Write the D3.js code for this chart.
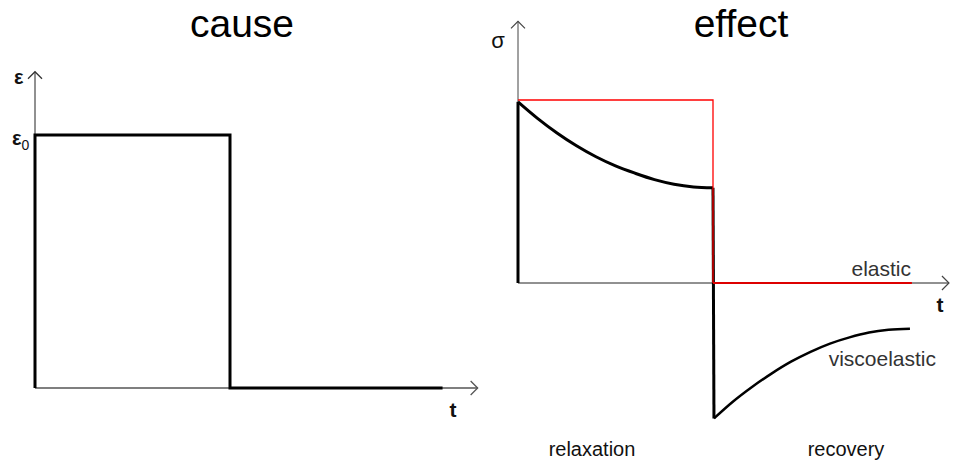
<!DOCTYPE html>
<html>
<head>
<meta charset="utf-8">
<script src="https://cdn.jsdelivr.net/npm/d3@7"></script>
<style>
  html, body { margin: 0; padding: 0; background: #fff; }
  svg { display: block; }
  text { font-family: "Liberation Sans", Arial, sans-serif; }
</style>
</head>
<body>
<svg id="chart" width="955" height="464"></svg>
<script>
// Cause: applied strain step (strain held at ε0 for one time unit, then released)
const causeTime   = [0, 0, 1, 1, 2.09];
const causeStrain = [0, 1, 1, 0, 0];

// Effect: elastic response (stress follows strain instantly)
const elasticTime   = [0, 1, 1, 2.02];
const elasticStress = [1, 1, 0, 0];

// Effect: viscoelastic relaxation while strain is held
const relaxTime   = [0, 0.1, 0.2, 0.3, 0.4, 0.5, 0.6, 0.7, 0.8, 0.9, 1.0];
const relaxStress = [0.99, 0.90, 0.82, 0.75, 0.69, 0.64, 0.60, 0.565, 0.54, 0.525, 0.52];

// Effect: viscoelastic recovery after strain release
const recoveryTime   = [1.005, 1.1, 1.2, 1.3, 1.4, 1.5, 1.6, 1.7, 1.8, 1.9, 2.01];
const recoveryStress = [-0.74, -0.65, -0.568, -0.495, -0.43, -0.376, -0.331, -0.297, -0.271, -0.256, -0.25];

// Axis extents and labels
const causeAxisMax  = { t: 2.27, strain: 1.25 };
const effectAxisMax = { t: 2.21, stress: 1.43 };
const titles = ["cause", "effect"];
const phaseLabels = ["relaxation", "recovery"];
const curveLabels = ["elastic", "viscoelastic"];

const svg = d3.select("#chart");

// Scales
const xL = d3.scaleLinear().domain([0, 1]).range([35, 230]);
const yL = d3.scaleLinear().domain([0, 1]).range([388, 135]);
const xR = d3.scaleLinear().domain([0, 1]).range([518, 713]);
const yR = d3.scaleLinear().domain([0, 1]).range([283, 100]);

const zip = (a, b) => a.map((v, i) => [v, b[i]]);

function arrowHead(g, x, y, dir, color, width) {
  const s = 7;
  const pts = dir === "up"
    ? [[x - s, y + s], [x, y], [x + s, y + s]]
    : [[x - s, y - s], [x, y], [x - s, y + s]];
  g.append("path")
    .attr("d", d3.line()(pts))
    .attr("fill", "none")
    .attr("stroke", color)
    .attr("stroke-width", width);
}

// ----- Titles -----
svg.append("text").attr("x", 242).attr("y", 37).attr("text-anchor", "middle")
  .attr("font-size", 39).attr("fill", "#000").text(titles[0]);
svg.append("text").attr("x", 741).attr("y", 37).attr("text-anchor", "middle")
  .attr("font-size", 39).attr("fill", "#000").text(titles[1]);

// ----- Cause panel -----
const gL = svg.append("g");
// axes
gL.append("line")
  .attr("x1", xL(0)).attr("y1", yL(0))
  .attr("x2", xL(causeAxisMax.t)).attr("y2", yL(0))
  .attr("stroke", "#555").attr("stroke-width", 1.5);
gL.append("line")
  .attr("x1", xL(0)).attr("y1", yL(0))
  .attr("x2", xL(0)).attr("y2", yL(causeAxisMax.strain))
  .attr("stroke", "#222").attr("stroke-width", 1);
arrowHead(gL, xL(causeAxisMax.t), yL(0), "right", "#555", 1.3);
arrowHead(gL, xL(0), yL(causeAxisMax.strain), "up", "#333", 1.3);

// strain history
gL.append("path")
  .attr("d", d3.line().x(d => xL(d[0])).y(d => yL(d[1]))(zip(causeTime, causeStrain)))
  .attr("fill", "none").attr("stroke", "#000").attr("stroke-width", 3)
  .attr("stroke-linejoin", "miter");

// labels
gL.append("text").attr("x", 14).attr("y", yL(causeAxisMax.strain) + 12)
  .attr("font-size", 20).attr("font-weight", "bold").attr("fill", "#111").text("ε");
const eps0 = gL.append("text").attr("x", 12).attr("y", yL(1) + 10)
  .attr("font-size", 20).attr("font-weight", "bold").attr("fill", "#111");
eps0.append("tspan").text("ε");
eps0.append("tspan").attr("dy", 5).attr("font-size", 14).attr("font-weight", "normal").text("0");
gL.append("text").attr("x", 453).attr("y", 417).attr("text-anchor", "middle")
  .attr("font-size", 21).attr("font-weight", "bold").attr("fill", "#111").text("t");

// ----- Effect panel -----
const gR = svg.append("g");
// axes
gR.append("line")
  .attr("x1", xR(0)).attr("y1", yR(0))
  .attr("x2", xR(effectAxisMax.t)).attr("y2", yR(0))
  .attr("stroke", "#222").attr("stroke-width", 1);
gR.append("line")
  .attr("x1", xR(0)).attr("y1", yR(0))
  .attr("x2", xR(0)).attr("y2", yR(effectAxisMax.stress))
  .attr("stroke", "#444").attr("stroke-width", 1);
arrowHead(gR, xR(effectAxisMax.t), yR(0), "right", "#444", 1.2);
arrowHead(gR, xR(0), yR(effectAxisMax.stress), "up", "#444", 1.2);

// viscoelastic: loading jump, relaxation, unloading jump, recovery
const lineR = d3.line().x(d => xR(d[0])).y(d => yR(d[1]));
const curveR = d3.line().x(d => xR(d[0])).y(d => yR(d[1])).curve(d3.curveMonotoneX);

gR.append("path")
  .attr("d", lineR([[0, 0], [relaxTime[0], relaxStress[0]]]))
  .attr("stroke", "#000").attr("stroke-width", 3).attr("fill", "none");
gR.append("path")
  .attr("d", curveR(zip(relaxTime, relaxStress)))
  .attr("stroke", "#000").attr("stroke-width", 3).attr("fill", "none");
gR.append("path")
  .attr("d", lineR([[relaxTime[relaxTime.length - 1], relaxStress[relaxStress.length - 1]],
                    [recoveryTime[0], recoveryStress[0]]]))
  .attr("stroke", "#000").attr("stroke-width", 3).attr("fill", "none");
gR.append("path")
  .attr("d", curveR(zip(recoveryTime, recoveryStress)))
  .attr("stroke", "#000").attr("stroke-width", 2.5).attr("fill", "none");

// elastic response
const elasticPts = zip(elasticTime, elasticStress);
gR.append("path")
  .attr("d", lineR(elasticPts.slice(0, 3)))
  .attr("stroke", "#f00").attr("stroke-width", 1.3).attr("fill", "none");
gR.append("path")
  .attr("d", lineR(elasticPts.slice(2)))
  .attr("stroke", "#d00").attr("stroke-width", 2.2).attr("fill", "none");

// labels
gR.append("text").attr("x", 498).attr("y", 48).attr("text-anchor", "middle")
  .attr("font-size", 22).attr("fill", "#111").text("σ");
gR.append("text").attr("x", 940).attr("y", 312).attr("text-anchor", "middle")
  .attr("font-size", 21).attr("font-weight", "bold").attr("fill", "#111").text("t");
gR.append("text").attr("x", 911).attr("y", 276).attr("text-anchor", "end")
  .attr("font-size", 21).attr("fill", "#333").text(curveLabels[0]);
gR.append("text").attr("x", 936).attr("y", 366).attr("text-anchor", "end")
  .attr("font-size", 21).attr("fill", "#333").text(curveLabels[1]);
gR.append("text").attr("x", 592).attr("y", 456).attr("text-anchor", "middle")
  .attr("font-size", 20).attr("fill", "#111").text(phaseLabels[0]);
gR.append("text").attr("x", 846).attr("y", 456).attr("text-anchor", "middle")
  .attr("font-size", 20).attr("fill", "#111").text(phaseLabels[1]);
</script>
</body>
</html>
